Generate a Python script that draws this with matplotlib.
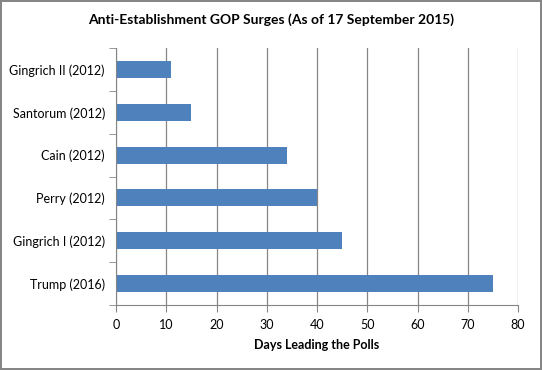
import matplotlib.pyplot as plt
import numpy as np

plt.rcParams['font.family'] = ['Lato', 'DejaVu Sans']

names = ["Trump (2016)", "Gingrich I (2012)", "Perry (2012)", "Cain (2012)",
         "Santorum (2012)", "Gingrich II (2012)"]
days = [75, 45, 40, 34, 15, 11]
xticks = [0, 10, 20, 30, 40, 50, 60, 70, 80]

fig = plt.figure(figsize=(5.42, 3.70), dpi=100)
fig.patch.set_edgecolor('#868686')
fig.patch.set_linewidth(1.5)
ax = fig.add_axes([116 / 542, 1 - 305 / 370, (518 - 116) / 542, (305 - 48) / 370])

y_pos = np.arange(len(names))
ax.set_axisbelow(True)
ax.barh(y_pos, days, height=0.4, color='#4F81BD', zorder=2)

ax.set_xlim(0, 80)
ax.set_ylim(-0.5, len(names) - 0.5)
ax.set_xticks(xticks)
ax.set_xticklabels([str(t) for t in xticks], fontsize=9)
ax.set_yticks(y_pos)
ax.set_yticklabels(names, fontsize=9)
ax.set_yticks(np.arange(len(names) + 1) - 0.5, minor=True)
ax.tick_params(axis='y', which='major', length=0, pad=8)
ax.tick_params(axis='y', which='minor', length=5, color='#868686', direction='out')
ax.tick_params(axis='x', length=5, color='#868686', direction='out', pad=5)

ax.grid(axis='x', color='#868686', linewidth=0.9)
for s in ['top', 'right']:
    ax.spines[s].set_visible(False)
for s in ['left', 'bottom']:
    ax.spines[s].set_color('#868686')

ax.set_xlabel('Days Leading the Polls', fontsize=9, fontweight='bold', labelpad=6)
fig.suptitle('Anti-Establishment GOP Surges (As of 17 September 2015)',
             fontsize=10, fontweight='bold', y=0.965)

fig.savefig('out.png', dpi=100, edgecolor=fig.get_edgecolor())
